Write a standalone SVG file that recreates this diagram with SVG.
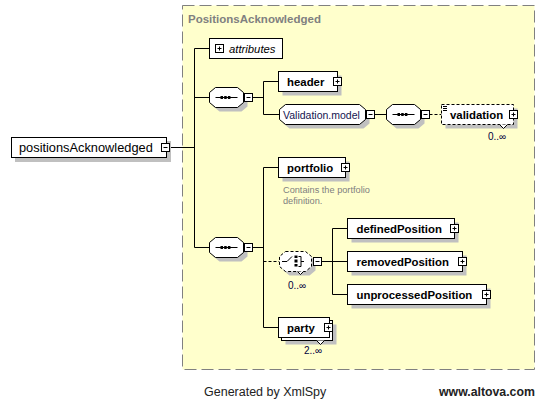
<svg xmlns="http://www.w3.org/2000/svg" width="545" height="400" viewBox="0 0 545 400">
<defs>
<style>
.node{fill:#fff;stroke:#000;stroke-width:1}
.opt{fill:#fff;stroke:#000;stroke-width:1;stroke-dasharray:3,2}
.sh{fill:#c0c0c0;stroke:none}
.btn{fill:#fff;stroke:#000;stroke-width:1}
.sign{stroke:#000;stroke-width:1;fill:none}
.el{font-family:"Liberation Sans",Arial,sans-serif;font-size:11.4px;font-weight:bold;fill:#000}
.conn{stroke:#000;stroke-width:1;fill:none}
.dconn{stroke:#000;stroke-width:1;fill:none;stroke-dasharray:3,2}
.occ{font-family:"Liberation Sans",Arial,sans-serif;font-size:10px;fill:#000040}
.doc{font-family:"Liberation Sans",Arial,sans-serif;font-size:9.2px;fill:#808080}
.notch{fill:#fff;stroke:#000;stroke-width:1}
</style>
<g id="plus"><rect class="btn" x="0" y="0" width="8" height="8"/><path class="sign" d="M2,4h4M4,2v4"/></g>
<g id="minus"><rect class="btn" x="0" y="0" width="8" height="8"/><path class="sign" d="M2,4h4"/></g>
<polygon id="oct" points="6,0 28,0 34,5 34,15 28,20 6,20 0,15 0,5"/>
<polygon id="octc" points="6,0 26,0 32,5 32,15 26,20 6,20 0,15 0,5"/>
<g id="seqsym"><path class="sign" d="M6,10h22"/><rect x="11" y="8.5" width="2.5" height="3" fill="#000"/><rect x="14.7" y="8.5" width="2.5" height="3" fill="#000"/><rect x="18.4" y="8.5" width="2.5" height="3" fill="#000"/></g>
</defs>

<rect x="182.5" y="5.5" width="352" height="364" fill="#FFFFCC" stroke="#808080" stroke-width="1" stroke-dasharray="12,5"/>
<text x="188" y="23" font-family="'Liberation Sans',Arial,sans-serif" font-size="11.5" font-weight="bold" fill="#808080">PositionsAcknowledged</text>

<g id="connectors">
<path class="conn" d="M169.5,147.5H194.5M194.5,48.5V247.5M194.5,48.5H209.5M194.5,97.5H209.5M194.5,247.5H209.5"/>
<path class="conn" d="M252.5,97.5H263.5M263.5,81.5V114.5M263.5,81.5H278.5M263.5,114.5H279.5"/>
<path class="conn" d="M374.5,114.5H386.5"/>
<path class="dconn" d="M429.5,114.5H441.5"/>
<path class="conn" d="M252.5,247.5H263.5M263.5,167.5V327.5M263.5,167.5H278.5M263.5,327.5H278.5"/>
<path class="dconn" d="M263.5,261.5H279.5"/>
<path class="conn" d="M321.5,261.5H332.5M332.5,228.5V294.5M332.5,228.5H347.5M332.5,261.5H347.5M332.5,294.5H347.5"/>
</g>

<g id="positionsAcknowledged">
<rect class="sh" x="15" y="141" width="156" height="21"/>
<rect class="node" x="11.5" y="137.5" width="155" height="20"/>
<text x="19" y="152" font-family="'Liberation Sans',Arial,sans-serif" font-size="12.8" fill="#000">positionsAcknowledged</text>
<use href="#minus" transform="translate(161.5,143.5)"/>
</g>

<g id="attributes">
<rect class="node" x="209.5" y="38.5" width="73" height="20"/>
<use href="#plus" transform="translate(215.5,44.5)"/>
<text x="229" y="52.5" font-family="'Liberation Sans',Arial,sans-serif" font-size="11.3" font-style="italic" fill="#000">attributes</text>
</g>

<g id="seq1">
<use href="#oct" class="sh" transform="translate(213.5,91.5)"/>
<use href="#oct" class="node" transform="translate(209.5,87.5)"/>
<use href="#seqsym" transform="translate(209.5,87.5)"/>
<use href="#minus" transform="translate(244.5,93.5)"/>
</g>

<g id="header">
<rect class="sh" x="282.5" y="75.5" width="59" height="20"/>
<rect class="node" x="278.5" y="71.5" width="59" height="20"/>
<text class="el" x="287" y="85.5">header</text>
<use href="#plus" transform="translate(333.5,77.5)"/>
</g>

<g id="validationModel">
<polygon class="sh" points="10,0 80,0 86,5 86,15 80,20 6,20 0,15 0,5" transform="translate(283.5,108.5)"/>
<polygon class="node" points="6,0 80,0 86,5 86,15 80,20 6,20 0,15 0,5" transform="translate(279.5,104.5)"/>
<text x="283" y="118.5" font-family="'Liberation Sans',Arial,sans-serif" font-size="10.5" fill="#141450">Validation.model</text>
<use href="#minus" transform="translate(366.5,110.5)"/>
</g>

<g id="seq2">
<use href="#oct" class="sh" transform="translate(390.5,108.5)"/>
<use href="#oct" class="node" transform="translate(386.5,104.5)"/>
<use href="#seqsym" transform="translate(386.5,104.5)"/>
<use href="#minus" transform="translate(421.5,110.5)"/>
</g>

<g id="validation">
<rect class="sh" x="445.5" y="108.5" width="72" height="20"/>
<rect class="opt" x="441.5" y="104.5" width="72" height="20"/>
<path class="sign" d="M443,106.5h4M443,108.5h4M443,110.5h4"/>
<text class="el" x="450" y="118.5">validation</text>
<use href="#plus" transform="translate(509.5,110.5)"/>
<path class="notch" d="M499.5,124.5l4,4l4,-4"/>
<text class="occ" x="488" y="140">0..∞</text>
</g>

<g id="seq3">
<use href="#oct" class="sh" transform="translate(213.5,241.5)"/>
<use href="#oct" class="node" transform="translate(209.5,237.5)"/>
<use href="#seqsym" transform="translate(209.5,237.5)"/>
<use href="#minus" transform="translate(244.5,243.5)"/>
</g>

<g id="portfolio">
<rect class="sh" x="282.5" y="161.5" width="67" height="20"/>
<rect class="node" x="278.5" y="157.5" width="67" height="20"/>
<text class="el" x="287" y="171.5">portfolio</text>
<use href="#plus" transform="translate(341.5,163.5)"/>
<text class="doc" x="283" y="193">Contains the portfolio</text>
<text class="doc" x="283" y="204">definition.</text>
</g>

<g id="choice">
<use href="#octc" class="sh" transform="translate(283.5,255.5)"/>
<use href="#octc" class="opt" transform="translate(279.5,251.5)"/>
<path class="sign" d="M282,261.5h5l5,-5M298.5,256.5h2.5v10h-2.5M301,261.5h3"/>
<rect x="294.5" y="255.5" width="3" height="2.5" fill="#000"/>
<rect x="294.5" y="259.5" width="3" height="3" fill="#000"/>
<rect x="294.5" y="264" width="3" height="2.5" fill="#000"/>
<use href="#minus" transform="translate(313.5,257.5)"/>
<path class="notch" d="M297.5,271.5l3,3l3,-3"/>
<text class="occ" x="288" y="289">0..∞</text>
</g>

<g id="definedPosition">
<rect class="sh" x="351.5" y="222.5" width="107" height="20"/>
<rect class="node" x="347.5" y="218.5" width="107" height="20"/>
<text class="el" x="356.5" y="232.5">definedPosition</text>
<use href="#plus" transform="translate(450.5,224.5)"/>
</g>

<g id="removedPosition">
<rect class="sh" x="351.5" y="255.5" width="115" height="20"/>
<rect class="node" x="347.5" y="251.5" width="115" height="20"/>
<text class="el" x="356.5" y="265.5">removedPosition</text>
<use href="#plus" transform="translate(458.5,257.5)"/>
</g>

<g id="unprocessedPosition">
<rect class="sh" x="351.5" y="288.5" width="139" height="20"/>
<rect class="node" x="347.5" y="284.5" width="139" height="20"/>
<text class="el" x="356.5" y="298.5">unprocessedPosition</text>
<use href="#plus" transform="translate(482.5,290.5)"/>
</g>

<g id="party">
<rect class="sh" x="285.5" y="324.5" width="51" height="20"/>
<rect class="node" x="281.5" y="320.5" width="51" height="20"/>
<rect class="node" x="278.5" y="317.5" width="51" height="20"/>
<text class="el" x="287" y="331.5">party</text>
<use href="#plus" transform="translate(324.5,323.5)"/>
<path class="notch" d="M316.5,340.5l4,4l4,-4"/>
<text class="occ" x="304" y="354">2..∞</text>
</g>

<text x="204" y="396" font-family="'Liberation Sans',Arial,sans-serif" font-size="12.5" fill="#222">Generated by XmlSpy</text>
<text x="439" y="396" font-family="'Liberation Sans',Arial,sans-serif" font-size="12.3" font-weight="bold" fill="#222">www.altova.com</text>
</svg>
